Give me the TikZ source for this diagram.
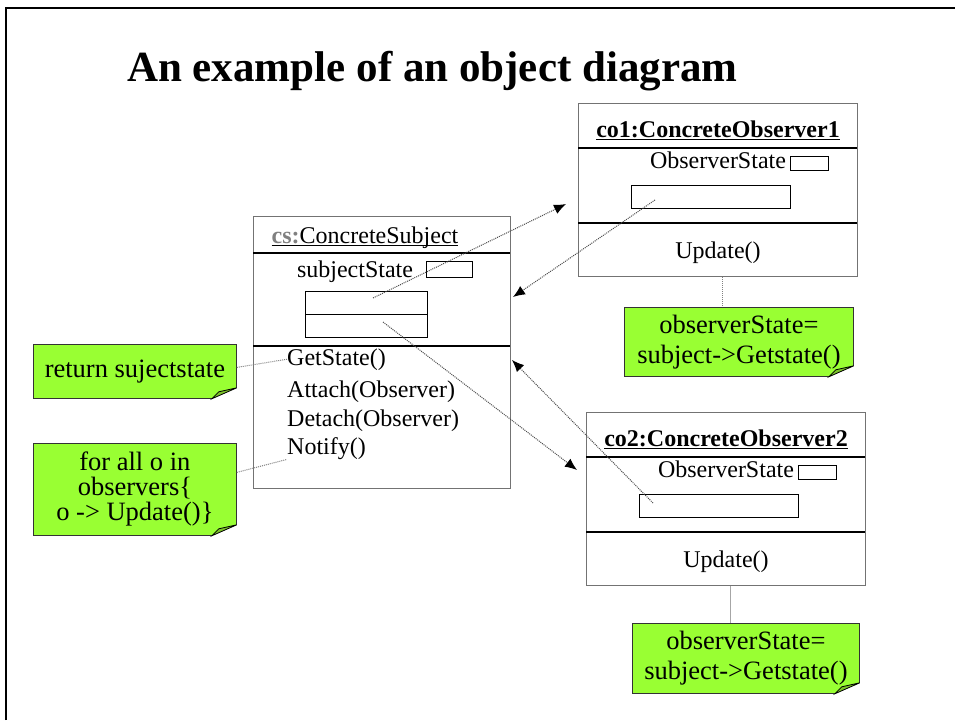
\documentclass[tikz,border=0pt]{standalone}
\usepackage{fontspec}
\setmainfont{Liberation Serif}
\usetikzlibrary{arrows.meta,positioning,calc}

\definecolor{notegreen}{HTML}{99FF33}
\definecolor{notefold}{HTML}{7CC22A}
\definecolor{boxgray}{gray}{0.45}

\newcommand\boxfont{\fontsize{24}{26}\selectfont}
\newcommand\notefont{\fontsize{26.5}{30}\selectfont}
\newcommand\objname[1]{\setbox0\hbox{#1}\rlap{\rule[-3pt]{\wd0}{1.5pt}}\box0}

\tikzset{
  objbox/.style={draw=boxgray, line width=1.3pt, anchor=north west, inner sep=0pt},
  slotbox/.style={draw, line width=1pt, anchor=north west, inner sep=0pt},
  boxtext/.style={font=\boxfont, inner sep=0pt, anchor=base},
  optext/.style={font=\boxfont, inner sep=0pt, anchor=base west},
  notebox/.style={fill=notegreen, draw=black!80, line width=0.8pt, inner sep=0pt,
    anchor=north west, align=center, font=\notefont},
  link/.style={densely dotted, draw=black!70, line width=1pt,
    -{Latex[length=12pt,width=10pt,color=black]}},
  notelink/.style={densely dotted, draw=black!50, line width=1pt},
}

\begin{document}
\begin{tikzpicture}[x=1pt,y=-1pt]
  \useasboundingbox (0,0) rectangle (955,720);

  % slide frame
  \draw[line width=2.5pt] (6,720) -- (6,8) -- (955,8);

  \node[font=\fontsize{43}{50}\selectfont\bfseries, anchor=base west, inner sep=0pt]
    (title) at (127,81) {An example of an object diagram};

  % Subject object
  \node[objbox, minimum width=257pt, minimum height=272pt] (cs) at (253,216) {};
  \draw[line width=1.3pt] (253,253) -- (510,253);
  \draw[line width=1.3pt] (253,346) -- (510,346);
  \node[boxtext] (cstitle) at (365,243) {\objname{\textcolor{gray}{\textbf{cs:}}ConcreteSubject}};
  \node[boxtext] (csstate) at (355,277) {subjectState};
  \node[slotbox, minimum width=46pt, minimum height=16pt] (csslot) at (426,261) {};
  \node[slotbox, minimum width=122pt, minimum height=23pt] (csref1) at (305,291) {};
  \node[slotbox, minimum width=122pt, minimum height=23pt] (csref2) at (305,314) {};
  \node[optext] (gs) at (287,365) {GetState()};
  \node[optext] (at) at (287,397) {Attach(Observer)};
  \node[optext] (dt) at (287,426) {Detach(Observer)};
  \node[optext] (nt) at (287,454) {Notify()};

  % Observer objects
  \foreach \i/\dx/\dy in {1/0/0, 2/8/309} {
    \begin{scope}[shift={(\dx,\dy)}]
      \node[objbox, minimum width=279pt, minimum height=173pt] (co\i) at (578,103) {};
      \draw[line width=1.3pt] (578,148) -- (857,148);
      \draw[line width=1.3pt] (578,223) -- (857,223);
      \node[boxtext] (co\i title) at (718,137) {\objname{\textbf{co\i:ConcreteObserver\i}}};
      \node[boxtext] (co\i state) at (718,168) {ObserverState};
      \node[slotbox, minimum width=38pt, minimum height=14pt] (co\i slot) at (790,156) {};
      \node[slotbox, minimum width=159pt, minimum height=23pt] (co\i ref) at (631,185) {};
      \node[boxtext] (co\i op) at (718,258) {Update()};
    \end{scope}
  }

  % Notes
  \node[notebox, minimum width=203pt, minimum height=54pt] (n1) at (33,344) {return sujectstate};
  \node[notebox, minimum width=203pt, minimum height=92pt, font=\fontsize{26.5}{25}\selectfont]
    (n2) at (33,443) {for all o in\\observers\{\\o -> Update()\}};
  \node[notebox, minimum width=229pt, minimum height=69pt] (n3) at (624,307) {observerState=\\subject->Getstate()};
  \node[notebox, minimum width=227pt, minimum height=70pt] (n4) at (632,623) {observerState=\\subject->Getstate()};
  \foreach \n in {n1,n2,n3,n4} {
    \fill[white] ([yshift=11pt]\n.south east) -- (\n.south east) -- ([xshift=-25pt]\n.south east) -- cycle;
    \draw[fill=notefold, line width=0.8pt] ([yshift=11pt]\n.south east) -- ([xshift=-25pt]\n.south east)
      -- ([xshift=-18pt,yshift=7pt]\n.south east) -- cycle;
  }

  % Links between objects
  \coordinate (csout1) at (373,298);
  \coordinate (csout2) at (383,322);
  \coordinate (csin1) at (513,297);
  \coordinate (csin2) at (512,360);
  \coordinate (co1in) at (566,204);
  \coordinate (co1out) at (655,200);
  \coordinate (co2in) at (577,470);
  \coordinate (co2out) at (653,503);
  \draw[link] (csout1) -- (co1in);
  \draw[link] (co1out) -- (csin1);
  \draw[link] (csout2) -- (co2in);
  \draw[link] (co2out) -- (csin2);

  % Note anchors
  \draw[notelink] ([yshift=4pt]n1.east) -- (gs.west);
  \draw[notelink] ([yshift=17pt]n2.east) -- (nt.south west);
  \draw[notelink] ([xshift=4pt]co1.south) -- ([xshift=4pt]co1.south |- n3.north);
  \draw[black!35, line width=1pt] ([xshift=4pt]co2.south) -- ([xshift=4pt]co2.south |- n4.north);
\end{tikzpicture}
\end{document}
